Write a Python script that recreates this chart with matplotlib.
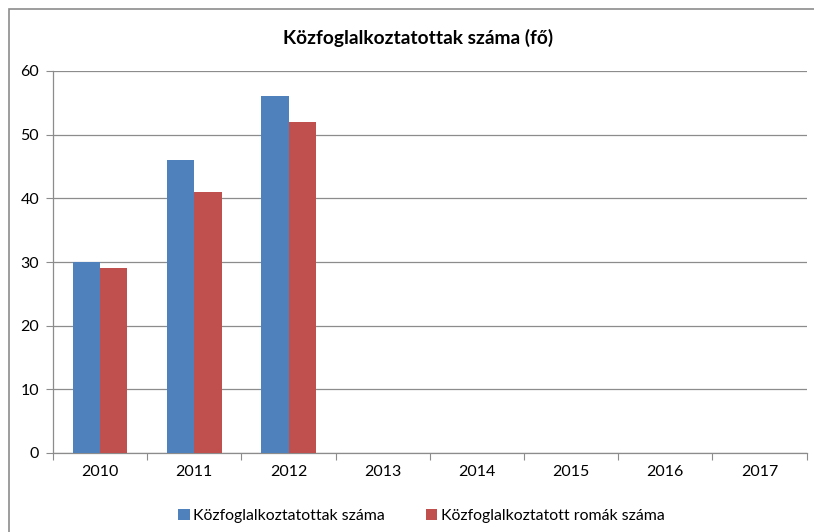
import matplotlib
matplotlib.use("Agg")
import matplotlib.pyplot as plt
from matplotlib.patches import Rectangle
import numpy as np

years = ["2010", "2011", "2012", "2013", "2014", "2015", "2016", "2017"]
kozfog = [30, 46, 56, None, None, None, None, None]
romak = [29, 41, 52, None, None, None, None, None]
title = "Közfoglalkoztatottak száma (fő)"
label1 = "Közfoglalkoztatottak száma"
label2 = "Közfoglalkoztatott romák száma"

plt.rcParams['font.family'] = ['Lato', 'DejaVu Sans']

W, H = 814, 532
fig = plt.figure(figsize=(W/100, H/100), dpi=100)
ax = fig.add_axes([53/W, 1-453/H, (806.7-53)/W, (453-71)/H])

x = np.arange(len(years))
bw = 0.29
v1 = [v if v is not None else 0 for v in kozfog]
v2 = [v if v is not None else 0 for v in romak]
b1 = ax.bar(x - bw/2, v1, bw, color="#4F81BD", label=label1, zorder=3)
b2 = ax.bar(x + bw/2, v2, bw, color="#C0504D", label=label2, zorder=3)

ax.set_xlim(-0.5, len(years) - 0.5)
ax.set_ylim(0, 60)
ax.set_yticks(range(0, 61, 10))
ax.yaxis.grid(True, color="#8C8C8C", linewidth=0.9, zorder=0)
ax.set_xticks(np.arange(-0.5, len(years), 1.0))
ax.set_xticklabels([])
ax.set_xticks(x, minor=True)
ax.set_xticklabels(years, minor=True)
ax.tick_params(axis="x", which="major", length=5, color="#8C8C8C", direction="out")
ax.tick_params(axis="x", which="minor", length=0, pad=9, labelsize=11.5)
ax.tick_params(axis="y", length=5, color="#8C8C8C", labelsize=11.5, pad=5)
for s in ["top", "right"]:
    ax.spines[s].set_visible(False)
for s in ["left", "bottom"]:
    ax.spines[s].set_color("#8C8C8C")
    ax.spines[s].set_linewidth(0.9)

fig.text(418/W, 1-38/H, title, ha="center", va="center", fontsize=13.8, fontweight="bold")

fig.legend(handles=[b1, b2], labels=[label1, label2], loc="center", bbox_to_anchor=(421/W, 1-516/H),
           ncol=2, frameon=False, fontsize=11.4, handlelength=0.75, handleheight=0.75,
           handletextpad=0.2, columnspacing=2.6)

fig.patches.append(Rectangle((9/W, -0.05), 1.2, 1-9/H + 0.05, transform=fig.transFigure,
                             fill=False, edgecolor="#8C8C8C", linewidth=1.2))

fig.savefig("out.png", dpi=100)
